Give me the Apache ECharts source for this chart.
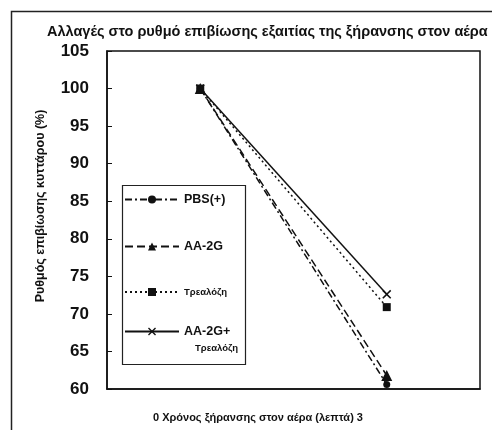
<!DOCTYPE html>
<html><head><meta charset="utf-8">
<script src="https://cdn.jsdelivr.net/npm/echarts@6/dist/echarts.min.js"></script>
<style>html,body{margin:0;padding:0;background:#fff}#c{width:492px;height:430px}</style>
</head><body><div id="c"></div>
<script>
const categories = ['0', '3'];
const pbs = [100, 60.6];
const aa2g = [100, 61.8];
const trehalose = [100, 70.9];
const aa2gTrehalose = [100, 72.6];
const yTicks = [60, 65, 70, 75, 80, 85, 90, 95, 100, 105];

const FONT = 'Liberation Sans';
const crossPath = 'path://M0,1.2L1.2,0L5,3.8L8.8,0L10,1.2L6.2,5L10,8.8L8.8,10L5,6.2L1.2,10L0,8.8L3.8,5Z';

const legendText = {
  color: '#111',
  rich: {
    b: { fontFamily: FONT, fontSize: 12.5, fontWeight: 'bold', color: '#111' },
    s: { fontFamily: FONT, fontSize: 9.5, fontWeight: 'bold', color: '#111' }
  }
};
const legendFmt = function (n) {
  if (n === 'Τρεαλόζη') return '{s|Τρεαλόζη}';
  return '{b|' + n + '}';
};

const chart = echarts.init(document.getElementById('c'));
chart.setOption({
  backgroundColor: '#fff',
  animation: false,
  textStyle: { fontFamily: FONT },
  title: {
    text: 'Αλλαγές στο ρυθμό επιβίωσης εξαιτίας της ξήρανσης στον αέρα',
    left: 42, top: 19,
    textStyle: { fontFamily: FONT, fontSize: 14.5, fontWeight: 'bold', color: '#111' }
  },
  grid: { left: 107, right: 12, top: 51, bottom: 41, show: true, borderColor: '#111', borderWidth: 1.5 },
  legend: [
    {
      orient: 'vertical', left: 124, top: 193,
      padding: 0, itemGap: 34, itemWidth: 54, itemHeight: 10,
      data: ['PBS(+)', 'AA-2G', 'Τρεαλόζη'],
      formatter: legendFmt, textStyle: legendText
    },
    {
      orient: 'vertical', left: 124, top: 325,
      padding: 0, itemWidth: 54, itemHeight: 10,
      data: ['AA-2G+'],
      formatter: legendFmt, textStyle: legendText
    }
  ],
  xAxis: {
    type: 'category', data: categories, boundaryGap: true,
    axisLine: { lineStyle: { color: '#111', width: 1.5 } },
    axisTick: { inside: true, length: 5, lineStyle: { color: '#111' } },
    axisLabel: { show: false },
    splitLine: { show: false }
  },
  yAxis: {
    type: 'value', min: 60, max: 105, interval: 5,
    name: 'Ρυθμός επιβίωσης κυττάρου (%)', nameLocation: 'middle', nameGap: 60,
    nameTextStyle: { fontFamily: FONT, fontSize: 12.5, fontWeight: 'bold', color: '#111', padding: [0, 0, 0, 28] },
    axisLine: { show: true, lineStyle: { color: '#111', width: 1.5 } },
    axisTick: { show: true, inside: true, length: 5, lineStyle: { color: '#111' } },
    axisLabel: {
      fontFamily: FONT, fontSize: 17, fontWeight: 'bold', color: '#111', margin: 18,
      formatter: function (v) { return yTicks.indexOf(v) >= 0 ? String(v) : ''; }
    },
    splitLine: { show: false }
  },
  series: [
    { name: 'PBS(+)', type: 'line', data: pbs, symbol: 'circle', symbolSize: 7,
      itemStyle: { color: '#111' }, lineStyle: { color: '#111', width: 1.5, type: [7, 3, 2, 3] } },
    { name: 'AA-2G', type: 'line', data: aa2g, symbol: 'triangle', symbolSize: 11,
      itemStyle: { color: '#111' }, lineStyle: { color: '#111', width: 1.5, type: [8, 4] } },
    { name: 'Τρεαλόζη', type: 'line', data: trehalose, symbol: 'rect', symbolSize: 8,
      itemStyle: { color: '#111' }, lineStyle: { color: '#111', width: 1.5, type: [2, 3] } },
    { name: 'AA-2G+', type: 'line', data: aa2gTrehalose, symbol: crossPath, symbolSize: 9,
      itemStyle: { color: '#111' }, lineStyle: { color: '#111', width: 1.5, type: 'solid' } }
  ],
  graphic: [
    { type: 'rect', left: 9, top: 9, shape: { width: 500, height: 440 }, style: { fill: 'none', stroke: '#222', lineWidth: 1.5 }, silent: true },
    { type: 'rect', left: 120, top: 183, shape: { width: 123, height: 179 }, style: { fill: 'none', stroke: '#222', lineWidth: 1.2 }, silent: true },
    { type: 'text', left: 195, top: 343, style: { text: 'Τρεαλόζη', font: 'bold 9.5px "Liberation Sans"', fill: '#111' } },
    { type: 'text', left: 153, top: 412, style: { text: '0 Χρόνος ξήρανσης στον αέρα (λεπτά) 3', font: 'bold 11px "Liberation Sans"', fill: '#111' } }
  ]
});
</script></body></html>
